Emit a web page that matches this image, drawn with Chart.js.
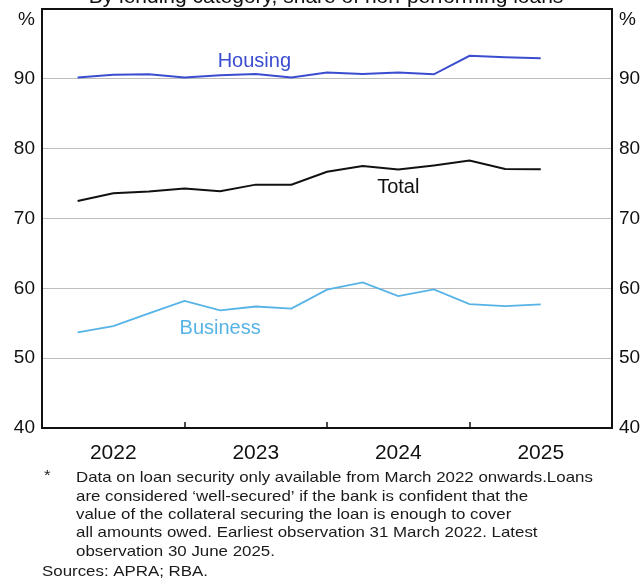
<!DOCTYPE html>
<html>
<head>
<meta charset="utf-8">
<script src="https://cdn.jsdelivr.net/npm/chart.js@4.4.1/dist/chart.umd.min.js"></script>
<style>
  html, body { margin: 0; padding: 0; background: #fff; }
  canvas { display: block; }
</style>
</head>
<body>
<canvas id="chart" width="642" height="583"></canvas>
<script>
// Quarter-end observations, March 2022 to June 2025
const quarters = ['2022-03', '2022-06', '2022-09', '2022-12', '2023-03', '2023-06', '2023-09',
                  '2023-12', '2024-03', '2024-06', '2024-09', '2024-12', '2025-03', '2025-06'];
const housing = [90.2, 90.6, 90.65, 90.2, 90.5, 90.7, 90.2, 90.9, 90.7, 90.9, 90.65, 93.3, 93.1, 92.95];
const total = [72.5, 73.6, 73.85, 74.3, 73.9, 74.85, 74.85, 76.7, 77.5, 77.0, 77.6, 78.3, 77.1, 77.05];
const business = [53.7, 54.6, 56.4, 58.2, 56.85, 57.4, 57.1, 59.8, 60.85, 58.9, 59.85, 57.75, 57.45, 57.7];
const yearLabels = ['2022', '2023', '2024', '2025'];

const FONT = '"Liberation Sans", Arial, sans-serif';
const HOUSING_COLOR = '#3a4dd0';
const TOTAL_COLOR = '#111111';
const BUSINESS_COLOR = '#56b3e6';

// quarter string -> decimal year at quarter end (e.g. 2022-03 -> 2022.25)
function toYear(q) {
    const parts = q.split('-');
    return Number(parts[0]) + Number(parts[1]) / 12;
}

function series(values) {
    return values.map((v, i) => ({ x: toYear(quarters[i]), y: v }));
}

const footnote = [
    'Data on loan security only available from March 2022 onwards.Loans',
    'are considered \u2018well-secured\u2019 if the bank is confident that the',
    'value of the collateral securing the loan is enough to cover',
    'all amounts owed. Earliest observation 31 March 2022. Latest',
    'observation 30 June 2025.'
];

// Text drawn around the chart: cut-off title, % units, series labels, notes
const decorations = {
    id: 'decorations',
    afterDraw(chart) {
        const ctx = chart.ctx;
        const area = chart.chartArea;
        const xs = chart.scales.x;
        const ys = chart.scales.y;
        ctx.save();

        // frame
        ctx.strokeStyle = '#111';
        ctx.lineWidth = 2;
        ctx.strokeRect(area.left, area.top, area.right - area.left, area.bottom - area.top);

        // inside tick marks at year boundaries
        ctx.lineWidth = 1.5;
        [2023, 2024, 2025].forEach(function(y) {
            const px = Math.round(xs.getPixelForValue(y));
            ctx.beginPath();
            ctx.moveTo(px, area.bottom);
            ctx.lineTo(px, area.bottom - 6);
            ctx.stroke();
        });

        // title (cut by the top edge of the picture)
        ctx.fillStyle = '#111';
        ctx.font = '21px ' + FONT;
        ctx.textAlign = 'center';
        ctx.textBaseline = 'alphabetic';
        ctx.fillText('By lending category, share of non-performing loans', 326, 3);

        // units
        ctx.font = '19px ' + FONT;
        ctx.textBaseline = 'middle';
        ctx.textAlign = 'right';
        ctx.fillText('%', area.left - 7, 20);
        ctx.textAlign = 'left';
        ctx.fillText('%', area.right + 7, 20);

        // series labels
        ctx.font = '20px ' + FONT;
        ctx.textAlign = 'center';
        ctx.fillStyle = HOUSING_COLOR;
        ctx.fillText('Housing', xs.getPixelForValue(2023.49), ys.getPixelForValue(92.5));
        ctx.fillStyle = TOTAL_COLOR;
        ctx.fillText('Total', xs.getPixelForValue(2024.5), ys.getPixelForValue(74.5));
        ctx.fillStyle = BUSINESS_COLOR;
        ctx.fillText('Business', xs.getPixelForValue(2023.25), ys.getPixelForValue(54.3));

        // notes: the source text is a little wide for its height
        ctx.fillStyle = '#1a1a1a';
        ctx.font = '15px ' + FONT;
        ctx.textAlign = 'left';
        const stretch = 1.125;
        ctx.save();
        ctx.scale(stretch, 1);
        ctx.fillText('*', 44 / stretch, 476);
        footnote.forEach(function(line, i) {
            ctx.fillText(line, 76 / stretch, 478 + i * 18.4);
        });
        ctx.fillText('Sources: APRA; RBA.', 42 / stretch, 572);
        ctx.restore();

        ctx.restore();
    }
};

// keep the plot area fixed: no extra room for half tick labels
function noPad(scale) {
    scale.paddingTop = 0;
    scale.paddingBottom = 0;
}

new Chart(document.getElementById('chart'), {
    type: 'line',
    data: {
        datasets: [
            { label: 'Housing', data: series(housing), borderColor: HOUSING_COLOR, borderWidth: 2 },
            { label: 'Total', data: series(total), borderColor: TOTAL_COLOR, borderWidth: 2 },
            { label: 'Business', data: series(business), borderColor: BUSINESS_COLOR, borderWidth: 1.8 }
        ]
    },
    options: {
        responsive: false,
        animation: false,
        devicePixelRatio: 1,
        layout: { padding: { top: 9, left: 0, right: 0, bottom: 0 } },
        elements: {
            point: { radius: 0 },
            line: { tension: 0, fill: false }
        },
        plugins: {
            legend: { display: false },
            title: { display: false },
            tooltip: { enabled: false }
        },
        scales: {
            x: {
                type: 'linear',
                min: 2022,
                max: 2026,
                afterBuildTicks: function(scale) {
                    scale.ticks = yearLabels.map(y => ({ value: Number(y) + 0.5 }));
                },
                afterFit: function(scale) {
                    scale.height = 155;
                    scale.paddingLeft = 0;
                    scale.paddingRight = 0;
                },
                grid: { display: false, drawTicks: false },
                border: { display: false },
                ticks: {
                    autoSkip: false,
                    maxRotation: 0,
                    padding: 13,
                    color: '#111',
                    font: { family: FONT, size: 21 },
                    callback: (v, i) => yearLabels[i]
                }
            },
            y: {
                position: 'left',
                min: 40,
                max: 100,
                afterFit: function(scale) { scale.width = 42; noPad(scale); },
                grid: { color: '#bdbdbd', lineWidth: 1, drawTicks: false },
                border: { display: false },
                ticks: {
                    stepSize: 10,
                    padding: 7,
                    color: '#111',
                    font: { family: FONT, size: 19 },
                    callback: v => (v === 100 ? '' : v)
                }
            },
            y2: {
                position: 'right',
                min: 40,
                max: 100,
                afterFit: function(scale) { scale.width = 30; noPad(scale); },
                grid: { display: false, drawTicks: false },
                border: { display: false },
                ticks: {
                    stepSize: 10,
                    padding: 7,
                    color: '#111',
                    font: { family: FONT, size: 19 },
                    callback: v => (v === 100 ? '' : v)
                }
            }
        }
    },
    plugins: [decorations]
});
</script>
</body>
</html>
